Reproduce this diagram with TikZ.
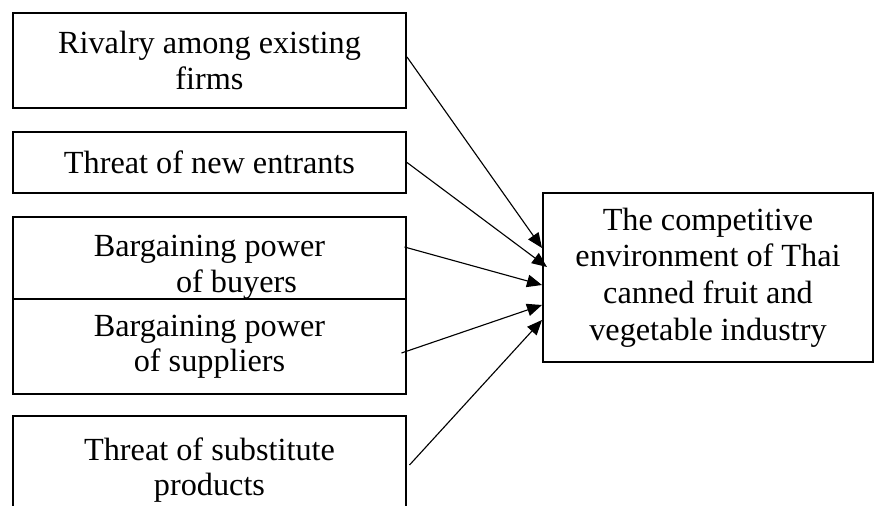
\documentclass[tikz,border=0pt]{standalone}
\usepackage{fontspec}
\setmainfont{Liberation Serif}
\usetikzlibrary{positioning,arrows.meta}
\tikzset{
porter/.style={
    x=0.4pt,
    y=-0.4pt,
    font=\fontsize{12.9}{14.1}\selectfont
},
force/.style={
    rectangle,
    draw,
    line width=0.8pt,
    align=center,
    inner sep=0pt,
    minimum width=157.2pt
},
target/.style={
    rectangle,
    draw,
    line width=0.8pt,
    align=center,
    inner sep=0pt,
    minimum width=132pt,
    minimum height=67.6pt,
    font=\fontsize{12.9}{14.7}\selectfont
},
drives/.style={
    -{Triangle[length=6pt,width=5pt]},
    line width=0.45pt
}}
\begin{document}
\begin{tikzpicture}[porter]
\useasboundingbox (0,0) rectangle (875,506);
\clip (0,0) rectangle (875,506);

\node[force, minimum height=38pt]    (rival)     at (209.5,60.5)   {Rivalry among existing\\firms};
\node[force, minimum height=24.4pt]  (entrants)  at (209.5,162.5)  {Threat of new entrants};
\node[force, text height=30pt, text depth=2.8pt]  (buyers)  at (209.5,258)  {Bargaining power\\\hspace*{21.6pt}of buyers};
\node[force, minimum height=38pt]    (suppliers) at (209.5,346.5)  {Bargaining power\\of suppliers};
\node[force, minimum height=43.2pt]  (subst)     at (209.5,470)    {Threat of substitute\\products};
\node[target]   (env)   at (708,277.5)   {The competitive\\environment of Thai\\canned fruit and\\vegetable industry};

\path    ([yshift=1.4pt]rival.east)               edge[drives]    ([yshift=11.8pt]env.west);
\path    (entrants.east)                          edge[drives]    ([xshift=2pt,yshift=4.2pt]env.west);
\path    ([xshift=-1pt,yshift=4.4pt]buyers.east)  edge[drives]    ([yshift=-3pt]env.west);
\path    ([xshift=-2.2pt,yshift=-2.6pt]suppliers.east)  edge[drives]    ([yshift=-11pt]env.west);
\path    ([xshift=1pt,yshift=2pt]subst.east)      edge[drives]    ([yshift=-17pt]env.west);
\end{tikzpicture}
\end{document}
